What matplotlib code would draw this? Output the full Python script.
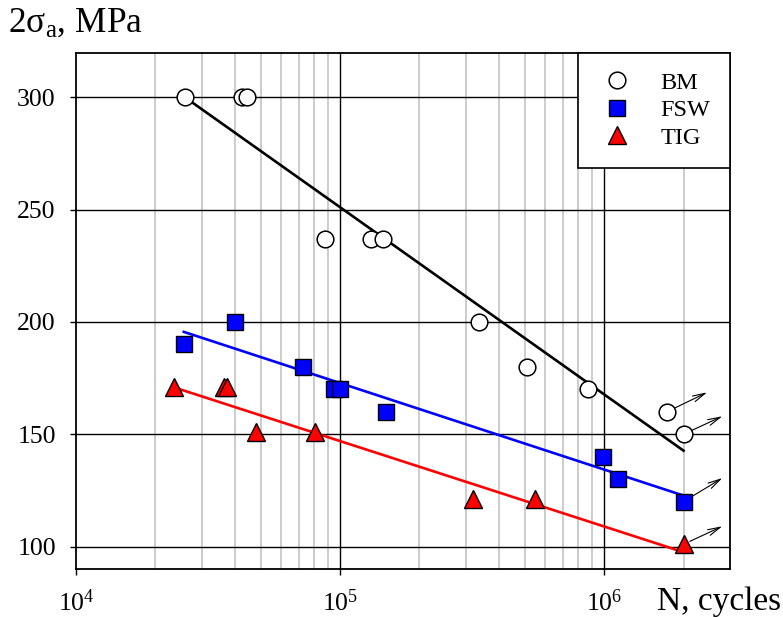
import matplotlib
matplotlib.use("Agg")
import matplotlib.pyplot as plt
from matplotlib.ticker import NullLocator
from matplotlib.transforms import ScaledTranslation

plt.rcParams["font.family"] = ["Liberation Serif", "DejaVu Serif"]
plt.rcParams["mathtext.fontset"] = "custom"
plt.rcParams["mathtext.rm"] = "Liberation Serif"
plt.rcParams["mathtext.it"] = "Liberation Serif:italic"

# --- data ---
bm_n = [25.9e3, 42.4e3, 44.6e3, 87.7e3, 131e3, 145.5e3, 336e3, 511e3, 869e3, 1.73e6, 2.0e6]
bm_s = [300, 300, 300, 237, 237, 237, 200, 180, 170, 160, 150]

fsw_n = [25.6e3, 40.0e3, 72.4e3, 94.8e3, 100e3, 149e3, 0.99e6, 1.13e6, 2.0e6]
fsw_s = [190, 200, 180, 170, 170, 160, 140, 130, 120]

tig_n = [23.5e3, 36.4e3, 37.4e3, 48.1e3, 80.1e3, 319e3, 548e3, 2.0e6]
tig_s = [171, 171, 171, 151, 151, 121, 121, 101]

# fitted lines (end points)
bm_fit_n = [25.9e3, 2.0e6]
bm_fit_s = [300, 142.7]
fsw_fit_n = [25.6e3, 2.0e6]
fsw_fit_s = [195.6, 122.7]
tig_fit_n = [24.5e3, 2.0e6]
tig_fit_s = [170.2, 97.5]

# run-outs (specimens that did not fail)
runout_n = [1.73e6, 2.0e6, 2.0e6, 2.0e6]
runout_s = [160, 150, 120, 101]
runout_dir = [(29, 14), (28, 13), (28, 17), (28, 13)]

# --- figure ---
fig = plt.figure(figsize=(7.83, 6.17), dpi=100)
ax = fig.add_axes([76 / 783, 1 - 569 / 617, (730 - 76) / 783, (569 - 52.5) / 617])

ax.set_xscale("log")
ax.set_xlim(1e4, 3e6)
ax.set_ylim(90, 320)

# grid: grey minor verticals, black major lines
minor_x = [m * 10 ** e for e in (4, 5) for m in range(2, 10)] + [2e6]
for x in minor_x:
    ax.axvline(x, color="#c8c8c8", lw=1.3, zorder=0)
for x in [1e5, 1e6]:
    ax.axvline(x, color="black", lw=1.0, zorder=0.5)
for y in [100, 150, 200, 250, 300]:
    ax.axhline(y, color="black", lw=1.0, zorder=0.5)

ax.plot(bm_fit_n, bm_fit_s, color="black", lw=1.9, zorder=2)
ax.plot(fsw_fit_n, fsw_fit_s, color="#0000ff", lw=1.9, zorder=2)
ax.plot(tig_fit_n, tig_fit_s, color="#ff0000", lw=1.9, zorder=2)

for n, s, (dx, dy) in zip(runout_n, runout_s, runout_dir):
    tip = ax.transData + ScaledTranslation(dx / 72, dy / 72, fig.dpi_scale_trans)
    ax.annotate("", xy=(n, s), xycoords=tip, xytext=(n, s), textcoords="data",
                annotation_clip=False, zorder=3,
                arrowprops=dict(arrowstyle="->,head_length=0.9,head_width=0.22",
                                lw=0.8, color="black", shrinkA=5, shrinkB=0))

ax.plot(bm_n, bm_s, "o", ms=12, mfc="white", mec="black", mew=1.1,
        ls="none", label="BM", zorder=4)
ax.plot(fsw_n, fsw_s, "s", ms=11, mfc="#0000ff", mec="black", mew=1.0,
        ls="none", label="FSW", zorder=4)
ax.plot(tig_n, tig_s, "^", ms=12.5, mfc="#ff0000", mec="black", mew=1.0,
        ls="none", label="TIG", zorder=4)

ax.set_xticks([1e4, 1e5, 1e6])
ax.set_xticklabels([r"$10^{4}$", r"$10^{5}$", r"$10^{6}$"])
ax.xaxis.set_minor_locator(NullLocator())
ax.set_yticks([100, 150, 200, 250, 300])
ax.tick_params(axis="both", which="major", direction="out", length=4.5,
               width=1.0, labelsize=18.5)
ax.tick_params(axis="x", pad=10)
ax.tick_params(axis="y", pad=10)

for sp in ax.spines.values():
    sp.set_linewidth(1.3)
    sp.set_zorder(5)

leg = ax.legend(loc="upper right", borderaxespad=0, fontsize=17.5, fancybox=False,
                edgecolor="black", framealpha=1, handletextpad=1.0, borderpad=0.8,
                labelspacing=0.22, handlelength=1.6)
leg.get_frame().set_linewidth(1.2)
leg.set_zorder(6)

fig.text(0.010, 0.962, "2σ$_\\mathrm{a}$, MPa", fontsize=25.5, ha="left", va="center")
fig.text(0.997, 0.025, "N, cycles", fontsize=24, ha="right", va="center")

fig.savefig("out.png", dpi=100)
